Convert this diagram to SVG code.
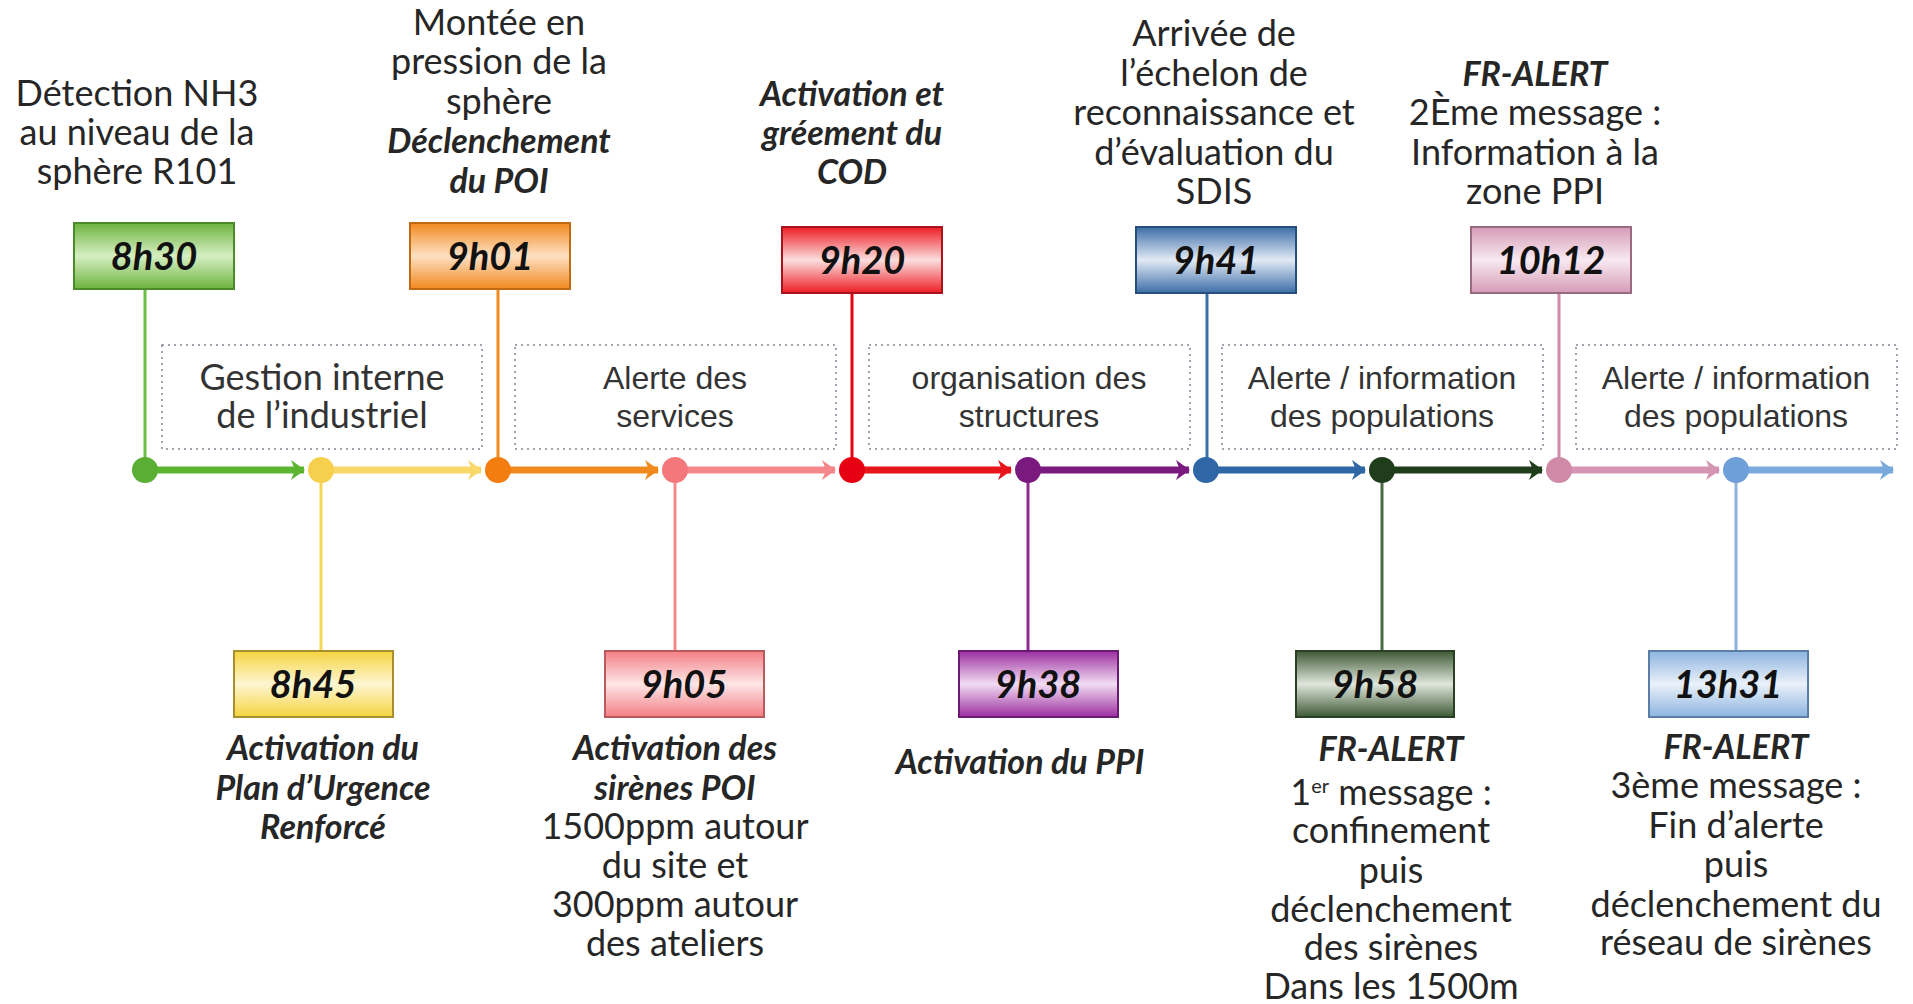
<svg xmlns="http://www.w3.org/2000/svg" width="1913" height="1004" viewBox="0 0 1913 1004">
<style>
.lab{font-family:Lato,"Open Sans","Liberation Sans",sans-serif;font-size:36px;fill:#262626;text-anchor:middle}
.bi{font-weight:bold;font-style:italic;font-size:34px}
.phase{font-family:"Liberation Sans",Arial,sans-serif;font-size:32px;fill:#333;text-anchor:middle}
.phase1{font-family:Lato,"Open Sans",sans-serif;font-size:36px;fill:#333;text-anchor:middle}
.time{font-family:Lato,"Open Sans",sans-serif;font-size:38px;font-weight:bold;font-style:italic;fill:#111;text-anchor:middle}
.dot{fill:none;stroke:#a0a4b0;stroke-width:2;stroke-dasharray:2 4}
.seg{stroke-width:7;fill:none}
.stem{stroke-width:3;fill:none}
.box{stroke-width:2}
</style>
<defs>
<linearGradient id="gGreen" x1="0" y1="0" x2="0" y2="1"><stop offset="0" stop-color="#6cb33f"/><stop offset="0.5" stop-color="#d6efc2"/><stop offset="1" stop-color="#6cb33f"/></linearGradient>
<linearGradient id="gOrange" x1="0" y1="0" x2="0" y2="1"><stop offset="0" stop-color="#f28a1e"/><stop offset="0.5" stop-color="#fde0c4"/><stop offset="1" stop-color="#f28a1e"/></linearGradient>
<linearGradient id="gRed" x1="0" y1="0" x2="0" y2="1"><stop offset="0" stop-color="#ec1c24"/><stop offset="0.5" stop-color="#fcdede"/><stop offset="1" stop-color="#ec1c24"/></linearGradient>
<linearGradient id="gBlue" x1="0" y1="0" x2="0" y2="1"><stop offset="0" stop-color="#3d6ea8"/><stop offset="0.5" stop-color="#e2eaf4"/><stop offset="1" stop-color="#3d6ea8"/></linearGradient>
<linearGradient id="gPink" x1="0" y1="0" x2="0" y2="1"><stop offset="0" stop-color="#d59cb7"/><stop offset="0.5" stop-color="#f8e9f0"/><stop offset="1" stop-color="#d59cb7"/></linearGradient>
<linearGradient id="gYellow" x1="0" y1="0" x2="0" y2="1"><stop offset="0" stop-color="#f5d33f"/><stop offset="0.5" stop-color="#fef6d2"/><stop offset="1" stop-color="#f5d33f"/></linearGradient>
<linearGradient id="gSalmon" x1="0" y1="0" x2="0" y2="1"><stop offset="0" stop-color="#f37f84"/><stop offset="0.5" stop-color="#fde6e7"/><stop offset="1" stop-color="#f37f84"/></linearGradient>
<linearGradient id="gPurple" x1="0" y1="0" x2="0" y2="1"><stop offset="0" stop-color="#9b2fa0"/><stop offset="0.5" stop-color="#f2dcf3"/><stop offset="1" stop-color="#9b2fa0"/></linearGradient>
<linearGradient id="gDkGreen" x1="0" y1="0" x2="0" y2="1"><stop offset="0" stop-color="#3d5a35"/><stop offset="0.5" stop-color="#e0e6dc"/><stop offset="1" stop-color="#3d5a35"/></linearGradient>
<linearGradient id="gLtBlue" x1="0" y1="0" x2="0" y2="1"><stop offset="0" stop-color="#8db4e0"/><stop offset="0.5" stop-color="#eaf1f9"/><stop offset="1" stop-color="#8db4e0"/></linearGradient>
<marker id="aGreen" markerUnits="userSpaceOnUse" markerWidth="14" markerHeight="20" refX="13" refY="10" orient="auto"><path d="M0,0 L14,10 L0,20 L4,10 Z" fill="#5cb531"/></marker>
<marker id="aYellow" markerUnits="userSpaceOnUse" markerWidth="14" markerHeight="20" refX="13" refY="10" orient="auto"><path d="M0,0 L14,10 L0,20 L4,10 Z" fill="#f8d866"/></marker>
<marker id="aOrange" markerUnits="userSpaceOnUse" markerWidth="14" markerHeight="20" refX="13" refY="10" orient="auto"><path d="M0,0 L14,10 L0,20 L4,10 Z" fill="#f08a1c"/></marker>
<marker id="aSalmon" markerUnits="userSpaceOnUse" markerWidth="14" markerHeight="20" refX="13" refY="10" orient="auto"><path d="M0,0 L14,10 L0,20 L4,10 Z" fill="#f4878a"/></marker>
<marker id="aRed" markerUnits="userSpaceOnUse" markerWidth="14" markerHeight="20" refX="13" refY="10" orient="auto"><path d="M0,0 L14,10 L0,20 L4,10 Z" fill="#e8141c"/></marker>
<marker id="aPurple" markerUnits="userSpaceOnUse" markerWidth="14" markerHeight="20" refX="13" refY="10" orient="auto"><path d="M0,0 L14,10 L0,20 L4,10 Z" fill="#7a1a7f"/></marker>
<marker id="aBlue" markerUnits="userSpaceOnUse" markerWidth="14" markerHeight="20" refX="13" refY="10" orient="auto"><path d="M0,0 L14,10 L0,20 L4,10 Z" fill="#2f66a6"/></marker>
<marker id="aDkGreen" markerUnits="userSpaceOnUse" markerWidth="14" markerHeight="20" refX="13" refY="10" orient="auto"><path d="M0,0 L14,10 L0,20 L4,10 Z" fill="#1f3d1a"/></marker>
<marker id="aPink" markerUnits="userSpaceOnUse" markerWidth="14" markerHeight="20" refX="13" refY="10" orient="auto"><path d="M0,0 L14,10 L0,20 L4,10 Z" fill="#d594b1"/></marker>
<marker id="aLtBlue" markerUnits="userSpaceOnUse" markerWidth="14" markerHeight="20" refX="13" refY="10" orient="auto"><path d="M0,0 L14,10 L0,20 L4,10 Z" fill="#7aa9dc"/></marker>
</defs>
<rect width="1913" height="1004" fill="#ffffff"/>

<g id="phases">
<rect class="dot" x="162" y="345" width="320" height="104"/>
<text class="phase1" x="322" y="390">Gestion interne</text>
<text class="phase1" x="322" y="428">de l’industriel</text>
<rect class="dot" x="515" y="345" width="321" height="104"/>
<text class="phase" x="675" y="389">Alerte des</text>
<text class="phase" x="675" y="427">services</text>
<rect class="dot" x="869" y="345" width="321" height="104"/>
<text class="phase" x="1029" y="389">organisation des</text>
<text class="phase" x="1029" y="427">structures</text>
<rect class="dot" x="1222" y="345" width="321" height="104"/>
<text class="phase" x="1382" y="389">Alerte / information</text>
<text class="phase" x="1382" y="427">des populations</text>
<rect class="dot" x="1576" y="345" width="321" height="104"/>
<text class="phase" x="1736" y="389">Alerte / information</text>
<text class="phase" x="1736" y="427">des populations</text>
</g>

<g id="connectors">
<line class="stem" x1="145" y1="289" x2="145" y2="470" stroke="#6cbf45"/>
<line class="stem" x1="498" y1="289" x2="498" y2="470" stroke="#f28a1e"/>
<line class="stem" x1="852" y1="293" x2="852" y2="470" stroke="#e60012"/>
<line class="stem" x1="1207" y1="293" x2="1207" y2="470" stroke="#3a6eaa"/>
<line class="stem" x1="1559" y1="293" x2="1559" y2="470" stroke="#d08aa9"/>
<line class="stem" x1="321" y1="470" x2="321" y2="651" stroke="#f6d657"/>
<line class="stem" x1="675" y1="470" x2="675" y2="651" stroke="#f28a8c"/>
<line class="stem" x1="1028" y1="470" x2="1028" y2="651" stroke="#8e2a93"/>
<line class="stem" x1="1382" y1="470" x2="1382" y2="651" stroke="#4a6a44"/>
<line class="stem" x1="1736" y1="470" x2="1736" y2="651" stroke="#8db0dc"/>

<line class="seg" x1="145" y1="470" x2="304" y2="470" stroke="#5cb531" marker-end="url(#aGreen)"/>
<line class="seg" x1="321" y1="470" x2="481" y2="470" stroke="#f8d866" marker-end="url(#aYellow)"/>
<line class="seg" x1="498" y1="470" x2="658" y2="470" stroke="#f08a1c" marker-end="url(#aOrange)"/>
<line class="seg" x1="675" y1="470" x2="835" y2="470" stroke="#f4878a" marker-end="url(#aSalmon)"/>
<line class="seg" x1="852" y1="470" x2="1011" y2="470" stroke="#e8141c" marker-end="url(#aRed)"/>
<line class="seg" x1="1028" y1="470" x2="1189" y2="470" stroke="#7a1a7f" marker-end="url(#aPurple)"/>
<line class="seg" x1="1206" y1="470" x2="1365" y2="470" stroke="#2f66a6" marker-end="url(#aBlue)"/>
<line class="seg" x1="1382" y1="470" x2="1542" y2="470" stroke="#1f3d1a" marker-end="url(#aDkGreen)"/>
<line class="seg" x1="1559" y1="470" x2="1719" y2="470" stroke="#d594b1" marker-end="url(#aPink)"/>
<line class="seg" x1="1736" y1="470" x2="1893" y2="470" stroke="#7aa9dc" marker-end="url(#aLtBlue)"/>
</g>

<g id="dots">
<circle cx="145" cy="470" r="13" fill="#5aae34"/>
<circle cx="321" cy="470" r="13" fill="#f6d04d"/>
<circle cx="498" cy="470" r="13" fill="#f47d12"/>
<circle cx="675" cy="470" r="13" fill="#f4787b"/>
<circle cx="852" cy="470" r="13" fill="#e60012"/>
<circle cx="1028" cy="470" r="13" fill="#7a1a7f"/>
<circle cx="1206" cy="470" r="13" fill="#2f66a6"/>
<circle cx="1382" cy="470" r="13" fill="#1f3d1a"/>
<circle cx="1559" cy="470" r="13" fill="#cf8aa8"/>
<circle cx="1736" cy="470" r="13" fill="#6e9fd8"/>
</g>

<g id="n-0830">
<rect class="box" x="74" y="223" width="160" height="66" fill="url(#gGreen)" stroke="#4d8a2a"/>
<text class="time" x="154" y="270">8h30</text>
<text class="lab" x="137" y="106">Détection NH3</text>
<text class="lab" x="137" y="145">au niveau de la</text>
<text class="lab" x="137" y="184">sphère R101</text>
</g>

<g id="n-0845">
<rect class="box" x="234" y="651" width="159" height="66" fill="url(#gYellow)" stroke="#a89030"/>
<text class="time" x="313" y="698">8h45</text>
<text class="lab bi" x="323" y="760">Activation du</text>
<text class="lab bi" x="323" y="800">Plan d’Urgence</text>
<text class="lab bi" x="323" y="839">Renforcé</text>
</g>

<g id="n-0901">
<rect class="box" x="410" y="223" width="160" height="66" fill="url(#gOrange)" stroke="#c06a14"/>
<text class="time" x="490" y="270">9h01</text>
<text class="lab" x="499" y="35">Montée en</text>
<text class="lab" x="499" y="74">pression de la</text>
<text class="lab" x="499" y="114">sphère</text>
<text class="lab bi" x="499" y="153">Déclenchement</text>
<text class="lab bi" x="499" y="193">du POI</text>
</g>

<g id="n-0905">
<rect class="box" x="605" y="651" width="159" height="66" fill="url(#gSalmon)" stroke="#b85a5e"/>
<text class="time" x="684" y="698">9h05</text>
<text class="lab bi" x="675" y="760">Activation des</text>
<text class="lab bi" x="675" y="800">sirènes POI</text>
<text class="lab" x="675" y="839">1500ppm autour</text>
<text class="lab" x="675" y="878">du site et</text>
<text class="lab" x="675" y="917">300ppm autour</text>
<text class="lab" x="675" y="956">des ateliers</text>
</g>

<g id="n-0920">
<rect class="box" x="782" y="227" width="160" height="66" fill="url(#gRed)" stroke="#a8141a"/>
<text class="time" x="862" y="274">9h20</text>
<text class="lab bi" x="852" y="106">Activation et</text>
<text class="lab bi" x="852" y="145">gréement du</text>
<text class="lab bi" x="852" y="184">COD</text>
</g>

<g id="n-0938">
<rect class="box" x="959" y="651" width="159" height="66" fill="url(#gPurple)" stroke="#6a1a70"/>
<text class="time" x="1038" y="698">9h38</text>
<text class="lab bi" x="1020" y="774">Activation du PPI</text>
</g>

<g id="n-0941">
<rect class="box" x="1136" y="227" width="160" height="66" fill="url(#gBlue)" stroke="#264f80"/>
<text class="time" x="1216" y="274">9h41</text>
<text class="lab" x="1214" y="46">Arrivée de</text>
<text class="lab" x="1214" y="86">l’échelon de</text>
<text class="lab" x="1214" y="125">reconnaissance et</text>
<text class="lab" x="1214" y="165">d’évaluation du</text>
<text class="lab" x="1214" y="204">SDIS</text>
</g>

<g id="n-0958">
<rect class="box" x="1296" y="651" width="158" height="66" fill="url(#gDkGreen)" stroke="#2a3f24"/>
<text class="time" x="1375" y="698">9h58</text>
<text class="lab bi" x="1391" y="761">FR-ALERT</text>
<text class="lab" x="1391" y="805">1<tspan font-size="20" baseline-shift="super">er</tspan> message :</text>
<text class="lab" x="1391" y="843">confinement</text>
<text class="lab" x="1391" y="883">puis</text>
<text class="lab" x="1391" y="922">déclenchement</text>
<text class="lab" x="1391" y="960">des sirènes</text>
<text class="lab" x="1391" y="999">Dans les 1500m</text>
</g>

<g id="n-1012">
<rect class="box" x="1471" y="227" width="160" height="66" fill="url(#gPink)" stroke="#9a6a80"/>
<text class="time" x="1551" y="274">10h12</text>
<text class="lab bi" x="1535" y="86">FR-ALERT</text>
<text class="lab" x="1535" y="125">2Ème message :</text>
<text class="lab" x="1535" y="165">Information à la</text>
<text class="lab" x="1535" y="204">zone PPI</text>
</g>

<g id="n-1331">
<rect class="box" x="1649" y="651" width="159" height="66" fill="url(#gLtBlue)" stroke="#5a7ea8"/>
<text class="time" x="1728" y="698">13h31</text>
<text class="lab bi" x="1736" y="759">FR-ALERT</text>
<text class="lab" x="1736" y="798">3ème message :</text>
<text class="lab" x="1736" y="838">Fin d’alerte</text>
<text class="lab" x="1736" y="877">puis</text>
<text class="lab" x="1736" y="917">déclenchement du</text>
<text class="lab" x="1736" y="955">réseau de sirènes</text>
</g>
</svg>
